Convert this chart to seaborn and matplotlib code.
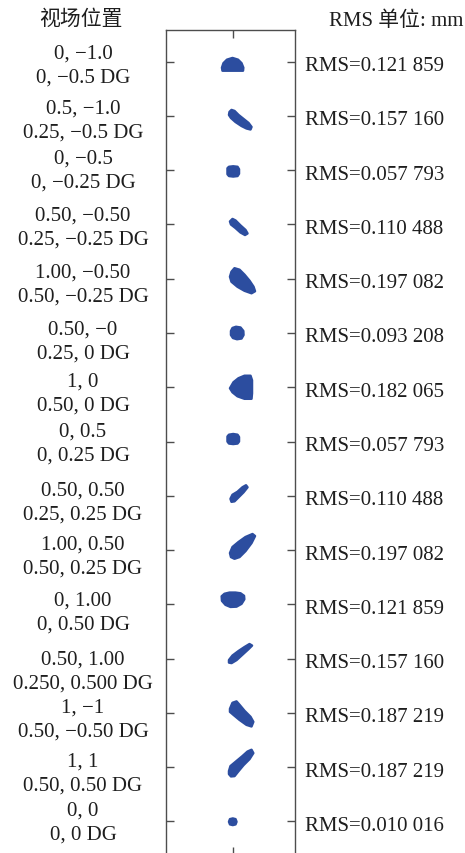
import numpy as np
import matplotlib
matplotlib.use("Agg")
import matplotlib.pyplot as plt
import seaborn as sns
from matplotlib.transforms import blended_transform_factory

# Field positions: normalised field (first line) and field angle in degrees (second line)
field_norm = ["0, −1.0", "0.5, −1.0", "0, −0.5", "0.50, −0.50", "1.00, −0.50",
              "0.50, −0", "1, 0", "0, 0.5", "0.50, 0.50", "1.00, 0.50",
              "0, 1.00", "0.50, 1.00", "1, −1", "1, 1", "0, 0"]
field_deg = ["0, −0.5 DG", "0.25, −0.5 DG", "0, −0.25 DG", "0.25, −0.25 DG",
             "0.50, −0.25 DG", "0.25, 0 DG", "0.50, 0 DG", "0, 0.25 DG",
             "0.25, 0.25 DG", "0.50, 0.25 DG", "0, 0.50 DG", "0.250, 0.500 DG",
             "0.50, −0.50 DG", "0.50, 0.50 DG", "0, 0 DG"]

# RMS spot radius per field, mm
rms_mm = [0.121859, 0.157160, 0.057793, 0.110488, 0.197082,
          0.093208, 0.182065, 0.057793, 0.110488, 0.197082,
          0.121859, 0.157160, 0.187219, 0.187219, 0.010016]

# Spot outlines: (dx, dy) offsets from the field's chief ray, units of 10 um,
# dy positive towards the bottom of the panel
spot_outlines = [
    [(-10, 9), (-10.5, 6), (-9, 1.5), (-5.5, -2), (0, -3.7), (5.5, -2), (9, 1.5), (10.8, 6), (10.5, 9)],
    [(-3, -4), (-1, -6), (2, -5), (6, -1), (11, 3), (16, 7), (19, 11), (18, 13.5),
     (14, 12.5), (9, 10), (3, 6), (-1.5, 2), (-3.5, -1)],
    [(-5, -2), (-3.5, -3.4), (0.7, -3.9), (5, -3.4), (6.5, -1), (6.5, 3.5), (5, 5.8),
     (0.7, 6.3), (-3.5, 5.8), (-5, 4)],
    [(-2.5, -3), (0, -5.5), (3, -4), (8, 1), (13, 5.5), (15, 9), (12.5, 10.5),
     (8, 8), (3, 3.5), (-1.5, 0)],
    [(2, -10.5), (7, -9), (12, -4), (17, 2), (21, 8), (22.5, 12.5), (19, 14.5),
     (12, 12), (5, 8), (-1, 3), (-2.5, -2), (-1, -7)],
    [(-1.5, -2), (0, -5), (3.5, -6.2), (8, -5.5), (10.8, -2), (11, 2), (9, 5.5),
     (4.5, 6.2), (0.5, 5), (-1.5, 2)],
    [(-2.5, 1), (1, -5), (6, -9), (12, -11.5), (18, -11.5), (19.5, -7), (19.5, 6),
     (19, 11.5), (12, 11.5), (5, 9), (0, 5)],
    [(-5, -5), (-3.5, -6.8), (0.7, -7.5), (5, -6.8), (6.5, -4.5), (6.5, 0), (5, 2),
     (0.7, 2.5), (-3.5, 2), (-5, 0)],
    [(-2, 3), (0, -1), (5, -4), (10, -8.5), (13.5, -10.5), (15, -8.5), (11, -3.5),
     (6, 1.5), (2, 5.5), (-1, 6)],
    [(-2.5, 3), (0, -3), (6, -8), (13, -13), (20, -16), (22.5, -14), (19, -7),
     (13, 1), (7, 7), (2, 8.7), (-1.5, 7)],
    [(-10.8, -8), (-8, -10.5), (-3, -11.7), (3, -11.7), (8, -11), (11.5, -8.5),
     (11.8, -5), (9, -0.5), (4, 2.3), (-2, 2.6), (-7, 0.5), (-10.5, -3.5)],
    [(-3.5, 1.5), (0, -3), (6, -7.5), (12, -11.5), (17, -14.5), (19.5, -13),
     (16, -9.5), (10, -4), (4, 1.5), (-1, 4.5), (-3.5, 4)],
    [(-2.5, -4), (0, -10), (4, -11.4), (7, -8), (12, -2), (18, 4), (20.8, 9),
     (19, 13.6), (14, 12), (7, 7), (1, 2), (-2.5, -1)],
    [(-3.5, 4), (-2, -1), (4, -6), (10, -11), (15, -15.5), (19, -17.3), (20.8, -14),
     (17, -8), (11, -2), (6, 4), (2, 9), (-1.5, 9.3), (-3.5, 7)],
    [(-3.5, 0.4), (-2.5, -2.2), (0.3, -2.9), (3, -2.2), (4, 0.4), (3, 3),
     (0.3, 3.7), (-2.5, 3)],
]

# Vertical nudges of the field captions (pixels, positive = down)
caption_shift = [-2, -1, -6, -3, 0, 3, 0, -4, 1, 0, 2, 7, 1, 0, -5]

SPOT = "#2c4d9f"
FRAME = "#4d4d4d"
INK = "#1e1e1e"
W, H = 465, 854

sns.set_theme(style="ticks")
plt.rcParams["font.family"] = ["Liberation Serif", "Noto Sans CJK SC", "DejaVu Sans"]
plt.rcParams["axes.unicode_minus"] = True

fig = plt.figure(figsize=(W / 100, H / 100), dpi=100)
fig.patch.set_facecolor("white")

ax_left, ax_right, ax_top, ax_bottom = 166, 295, 31, 856
ax = fig.add_axes([ax_left / W, 1 - ax_bottom / H,
                   (ax_right - ax_left) / W, (ax_bottom - ax_top) / H])
ax.set_facecolor("white")

n = len(field_norm)
ax.set_xlim(-66.5, 62.5)
ax.set_ylim(n - 0.38, -0.584)

ax.set_xticks([0])
ax.set_yticks(np.arange(n))
ax.set_xticklabels([])
ax.set_yticklabels([])
ax.tick_params(axis="both", which="both", direction="in", length=6, width=1.0,
               color=FRAME, top=True, bottom=True, left=True, right=True)
for sp in ax.spines.values():
    sp.set_color(FRAME)
    sp.set_linewidth(1.0)

# keep spots at the same physical scale horizontally and vertically
p0 = ax.transData.transform((0, 0))
px_per_unit = ax.transData.transform((1, 0))[0] - p0[0]
px_per_row = abs(ax.transData.transform((0, 1))[1] - p0[1])
k = px_per_unit / px_per_row

for i, outline in enumerate(spot_outlines):
    pts = np.asarray(outline, dtype=float)
    ax.fill(pts[:, 0], i + pts[:, 1] * k, facecolor=SPOT, edgecolor=SPOT,
            linewidth=1.8, joinstyle="round", zorder=3)

fs = 15
left_tr = blended_transform_factory(fig.transFigure, ax.transData)
right_tr = blended_transform_factory(ax.transAxes, ax.transData)
for i in range(n):
    off = 2 - caption_shift[i]
    ax.annotate(field_norm[i], xy=(83 / W, i), xycoords=left_tr,
                xytext=(0, off), textcoords="offset pixels",
                ha="center", va="baseline", fontsize=fs, color=INK,
                annotation_clip=False)
    ax.annotate(field_deg[i], xy=(83 / W, i), xycoords=left_tr,
                xytext=(0, off - 24), textcoords="offset pixels",
                ha="center", va="baseline", fontsize=fs, color=INK,
                annotation_clip=False)
    s = f"{rms_mm[i]:.6f}"
    ax.annotate(f"RMS={s[:5]} {s[5:]}", xy=(1, i), xycoords=right_tr,
                xytext=(9.5, -8.5), textcoords="offset pixels",
                ha="left", va="baseline", fontsize=fs, color=INK,
                annotation_clip=False)

fig.text(80.5 / W, 1 - 25 / H, "视场位置", ha="center", va="baseline",
         fontsize=fs, color=INK)
fig.text(463 / W, 1 - 26 / H, "RMS 单位: mm", ha="right", va="baseline",
         fontsize=fs, color=INK)

fig.savefig("out.png", dpi=100, facecolor="white")
